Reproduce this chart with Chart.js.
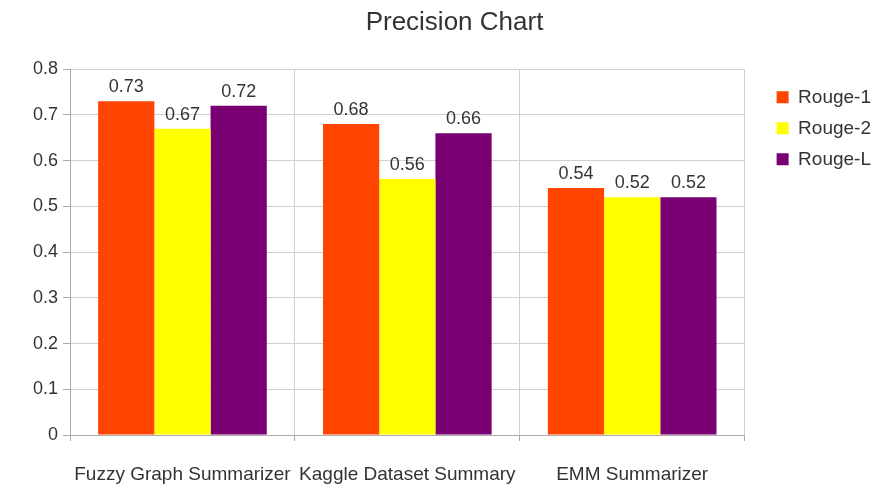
<!DOCTYPE html>
<html lang="en">
<head>
  <meta charset="UTF-8">
  <title>Precision Chart</title>
  <script src="https://cdn.jsdelivr.net/npm/chart.js"></script>
  <style>
    html, body { margin: 0; padding: 0; background: #fff; }
    #wrap { width: 872px; height: 503px; }
  </style>
</head>
<body>
  <div id="wrap"><canvas id="precisionChart"></canvas></div>

  <script>
    // chart data
    const categories = ['Fuzzy Graph Summarizer', 'Kaggle Dataset Summary', 'EMM Summarizer'];
    const rouge1 = [0.73, 0.68, 0.54];
    const rouge2 = [0.67, 0.56, 0.52];
    const rougeL = [0.72, 0.66, 0.52];
    const seriesNames = ['Rouge-1', 'Rouge-2', 'Rouge-L'];
    const seriesColors = ['#ff4500', '#ffff00', '#780073'];

    // draws the value above each bar
    const valueLabels = {
      id: 'valueLabels',
      afterDatasetsDraw(chart) {
        const ctx = chart.ctx;
        ctx.save();
        ctx.font = '18px "Liberation Sans", Arial, sans-serif';
        ctx.fillStyle = '#333';
        ctx.textAlign = 'center';
        ctx.textBaseline = 'bottom';
        chart.data.datasets.forEach((ds, i) => {
          chart.getDatasetMeta(i).data.forEach((bar, j) => {
            ctx.fillText(ds.data[j].toFixed(2), bar.x, bar.y - 5);
          });
        });
        ctx.restore();
      }
    };

    Chart.defaults.font.family = '"Liberation Sans", Arial, sans-serif';
    Chart.defaults.color = '#333';

    new Chart(document.getElementById('precisionChart'), {
      type: 'bar',
      data: {
        labels: categories,
        datasets: [rouge1, rouge2, rougeL].map((d, i) => ({
          label: seriesNames[i],
          data: d,
          backgroundColor: seriesColors[i],
          categoryPercentage: 0.75,
          barPercentage: 1
        }))
      },
      options: {
        responsive: true,
        maintainAspectRatio: false,
        animation: false,
        layout: { padding: { left: 28, top: 0, right: -9, bottom: 17 } },
        plugins: {
          title: {
            display: true,
            text: 'Precision Chart',
            font: { size: 26, weight: 'normal' },
            color: '#333',
            padding: { top: 7, bottom: 31 }
          },
          legend: {
            position: 'right',
            align: 'start',
            title: { display: true, text: ' ', font: { size: 19 }, padding: { top: 53, bottom: 0 } },
            labels: {
              boxWidth: 12,
              boxHeight: 12,
              padding: 12,
              font: { size: 19 },
              color: '#333'
            }
          },
          tooltip: { enabled: false }
        },
        scales: {
          y: {
            min: 0,
            max: 0.8,
            ticks: { stepSize: 0.1, font: { size: 18 }, padding: 5 },
            grid: { color: '#d0d0d0', tickLength: 7, tickColor: '#aaa' },
            border: { color: '#aaa' }
          },
          // empty axis, only keeps a gap between the plot and the legend
          gap: {
            position: 'right',
            display: true,
            ticks: { display: false },
            grid: { display: false },
            border: { display: false },
            afterFit(scale) { scale.width = 20; }
          },
          x: {
            ticks: { font: { size: 19 }, padding: 22, maxRotation: 0, autoSkip: false },
            grid: { color: '#d0d0d0', tickLength: 6, tickColor: '#aaa' },
            border: { color: '#aaa' },
            afterFit(scale) { scale.height = 51; }
          }
        }
      },
      plugins: [valueLabels]
    });
  </script>
</body>
</html>
